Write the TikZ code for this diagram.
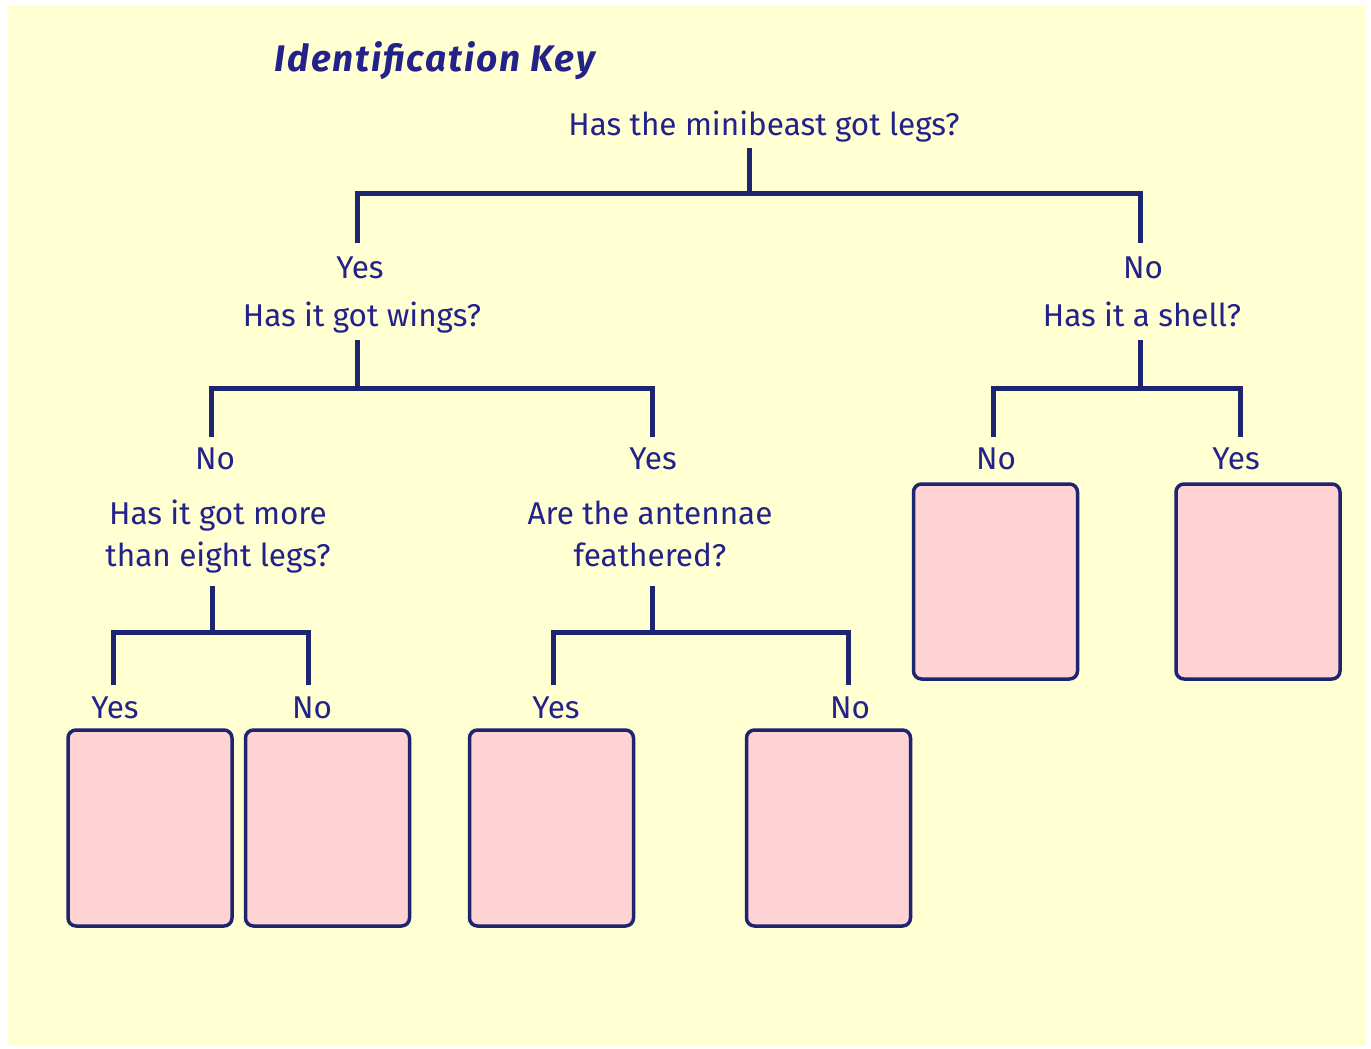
\documentclass[tikz,border=0pt]{standalone}
\usepackage{fontspec}
\setmainfont{Fira Sans}
\definecolor{bgy}{HTML}{FFFFD2}
\definecolor{txtc}{HTML}{22228A}
\definecolor{linec}{HTML}{1D2470}
\definecolor{boxf}{HTML}{FFD3D3}
\begin{document}
\begin{tikzpicture}[x=1pt,y=-1pt,
  lbl/.style={text=txtc,font=\fontsize{31.5}{42}\selectfont,anchor=base,inner sep=0pt,align=center},
  conn/.style={draw=linec,line width=5pt,line cap=rect},
  leaf/.style={draw=linec,fill=boxf,line width=3.5pt,rounded corners=8pt,minimum width=164pt,inner sep=0pt}]
\useasboundingbox (0,0) rectangle (1371,1049);
\fill[white] (0,0) rectangle (1371,1049);
\fill[bgy] (8,5) rectangle (1366,1046);
% title
\node[text=txtc,font=\fontsize{37}{42}\selectfont\addfontfeature{LetterSpace=5}\bfseries\itshape,anchor=base,inner sep=0pt] (title) at (435,72) {Identification Key};
% questions and answers
\node[lbl] (q0) at (764,135) {Has the minibeast got legs?};
\node[lbl] (yes1) at (360,278) {Yes};
\node[lbl] (q1) at (362,326) {Has it got wings?};
\node[lbl] (no1) at (1143,278) {No};
\node[lbl] (q2) at (1142,326) {Has it a shell?};
\node[lbl] (no2) at (215,469) {No};
\node[lbl] (q3) at (218,566) {Has it got more\\than eight legs?};
\node[lbl] (yes2) at (653,469) {Yes};
\node[lbl] (q4) at (650,566) {Are the antennae\\feathered?};
\node[lbl] (no3) at (996,469) {No};
\node[lbl] (yes3) at (1236,469) {Yes};
\node[lbl] (yes4) at (115,718) {Yes};
\node[lbl] (no4) at (312,718) {No};
\node[lbl] (yes5) at (556,718) {Yes};
\node[lbl] (no5) at (850,718) {No};
% boxes
\node[leaf,minimum height=196pt] (b1) at (150,828) {};
\node[leaf,minimum height=196pt] (b2) at (327.5,828) {};
\node[leaf,minimum height=196pt] (b3) at (551.5,828) {};
\node[leaf,minimum height=196pt] (b4) at (828.5,828) {};
\node[leaf,minimum height=195pt] (b5) at (995.5,581.5) {};
\node[leaf,minimum height=195pt] (b6) at (1258,581.5) {};
% connector coordinates
\coordinate (s0) at (749,150);
\coordinate (j0) at (749,193);
\coordinate (e0a) at (357,243);
\coordinate (e0b) at (1140,243);
\coordinate (s1) at (357,342);
\coordinate (j1) at (357,388);
\coordinate (e1a) at (211,437);
\coordinate (e1b) at (652,437);
\coordinate (s2) at (1140,342);
\coordinate (j2) at (1140,388);
\coordinate (e2a) at (993,437);
\coordinate (e2b) at (1240,437);
\coordinate (s3) at (212,588);
\coordinate (j3) at (212,632);
\coordinate (e3a) at (113,685);
\coordinate (e3b) at (308,685);
\coordinate (s4) at (652,588);
\coordinate (j4) at (652,632);
\coordinate (e4a) at (553,685);
\coordinate (e4b) at (848,685);
\foreach \s/\j/\a/\b in {s0/j0/e0a/e0b,s1/j1/e1a/e1b,s2/j2/e2a/e2b,s3/j3/e3a/e3b,s4/j4/e4a/e4b}{
  \draw[conn] (\s) -- (\j);
  \draw[conn,line cap=butt] (\a) -- (\a |- \j) -- (\b |- \j) -- (\b);
}
\end{tikzpicture}
\end{document}
